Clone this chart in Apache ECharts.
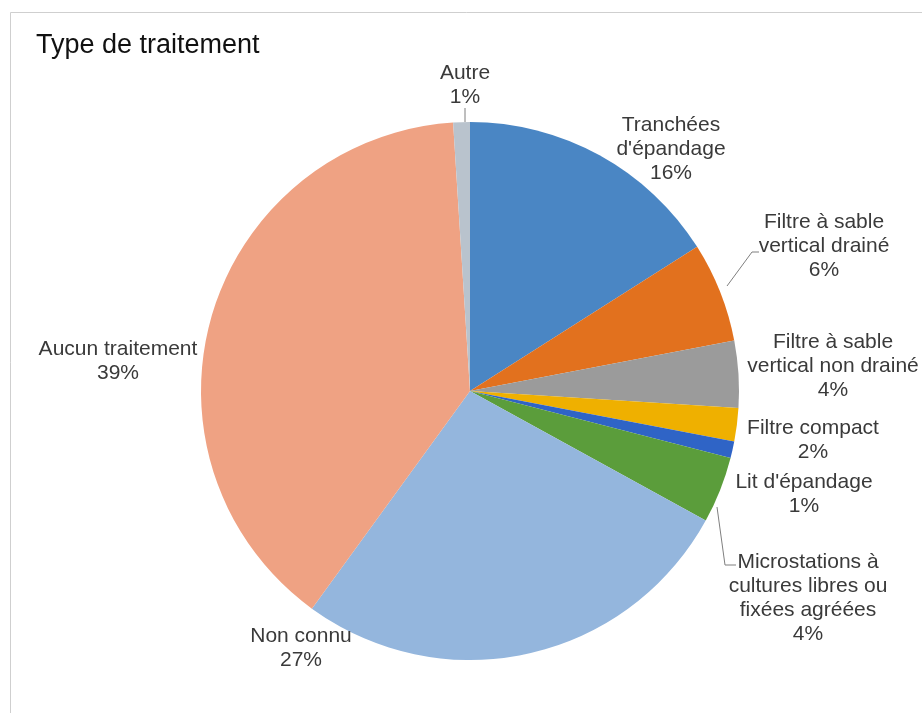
<!DOCTYPE html>
<html>
<head>
<meta charset="utf-8">
<script src="https://cdn.jsdelivr.net/npm/echarts@6/dist/echarts.min.js"></script>
<style>
  html, body { margin: 0; padding: 0; background: #ffffff; }
  #chart { width: 922px; height: 713px; }
</style>
</head>
<body>
<div id="chart"></div>
<script>
// Treatment categories, clockwise from 12 o'clock
const categories = [
  "Tranchées\nd'épandage",
  "Filtre à sable\nvertical drainé",
  "Filtre à sable\nvertical non drainé",
  "Filtre compact",
  "Lit d'épandage",
  "Microstations à\ncultures libres ou\nfixées agréées",
  "Non connu",
  "Aucun traitement",
  "Autre"
];
// Share of each treatment type, in percent
const shares = [16, 6, 4, 2, 1, 4, 27, 39, 1];

const sliceColors = ['#4a86c4', '#e2711e', '#9b9b9b', '#efb000', '#2f64c6', '#5b9d3b', '#94b6dd', '#efa283', '#b9c3cd'];
// Label centres (px) in the chart canvas
const labelSpots = [
  [671, 149], [824, 246], [833, 366], [813, 440], [804, 494],
  [808, 598], [301, 648], [118, 361], [465, 85]
];
// Leader lines for the labels set apart from their slice (slice edge -> elbow -> label)
const leaderPaths = {
  1: [[727, 286], [752, 252], [759, 252]],
  5: [[717, 507], [725, 565], [736, 565]],
  8: [[465, 122], [465, 114], [465, 108]]
};

const chart = echarts.init(document.getElementById('chart'), null, { renderer: 'canvas' });

const seriesData = categories.map((name, i) => ({
  name: name,
  value: shares[i],
  itemStyle: { color: sliceColors[i] },
  labelLine: { show: leaderPaths[i] !== undefined }
}));

chart.setOption({
  animation: false,
  title: {
    text: 'Type de traitement',
    left: 31,
    top: 27,
    textStyle: { fontFamily: 'Liberation Sans, Arial, sans-serif', fontSize: 27, fontWeight: 'normal', color: '#111111' }
  },
  graphic: [{
    type: 'polyline',
    shape: { points: [[10.5, 713], [10.5, 12.5], [922, 12.5]] },
    style: { stroke: '#cfcfcf', lineWidth: 1, fill: null },
    silent: true
  }],
  series: [{
    type: 'pie',
    center: [470, 391],
    radius: 269,
    startAngle: 90,
    clockwise: true,
    avoidLabelOverlap: false,
    itemStyle: { borderWidth: 0 },
    label: {
      show: true,
      position: 'outside',
      formatter: p => p.name + '\n' + p.value + '%',
      fontFamily: 'Liberation Sans, Arial, sans-serif',
      fontSize: 21,
      lineHeight: 24,
      color: '#3a3a3a',
      align: 'center'
    },
    labelLine: {
      length: 6,
      length2: 0,
      smooth: false,
      lineStyle: { color: '#7f7f7f', width: 1 }
    },
    labelLayout: function (params) {
      const i = params.dataIndex;
      const spot = labelSpots[i];
      const out = { x: spot[0], y: spot[1], align: 'center', verticalAlign: 'middle' };
      if (leaderPaths[i]) out.labelLinePoints = leaderPaths[i];
      return out;
    },
    data: seriesData
  }]
});
</script>
</body>
</html>
